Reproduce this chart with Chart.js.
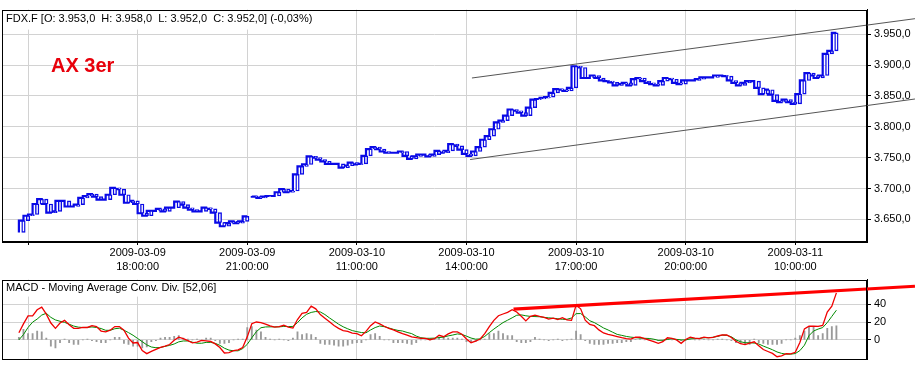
<!DOCTYPE html>
<html>
<head>
<meta charset="utf-8">
<script src="https://cdn.jsdelivr.net/npm/chart.js@4.4.1/dist/chart.umd.min.js"></script>
<style>
  html,body{margin:0;padding:0;background:#fff;}
  #wrap{position:relative;width:915px;height:369px;overflow:hidden;background:#fff;}
  canvas{position:absolute;left:0;}
  #priceCanvas{top:0;}
  #macdCanvas{top:270px;}
</style>
</head>
<body>
<div id="wrap">
  <canvas id="priceCanvas" width="915" height="276"></canvas>
  <canvas id="macdCanvas" width="915" height="99"></canvas>
</div>
<script>
/* ---- data (bar index, 0 = first grid line) ---- */
const firstBar = -2;
const priceClose = [
  3629,3648,3656,3658,3675,3683,3675,3661,3663,3680,
  3680,3671,3671,3674,3685,3688,3691,3687,3682,3682,
  3690,3701,3699,3690,3677,3680,3675,3660,3656,3664,
  3664,3667,3663,3669,3669,3679,3674,3669,3666,3663,
  3663,3669,3667,3661,3645,3639,3644,3647,3644,3647,
  3655,3688,3687,3685,3687,3688,3688,3694,3699,3694,
  3696,3723,3736,3739,3752,3750,3747,3744,3740,3740,
  3740,3734,3737,3742,3739,3740,3753,3764,3767,3764,
  3760,3758,3758,3758,3760,3753,3748,3752,3755,3755,
  3752,3755,3761,3758,3761,3772,3769,3763,3756,3753,
  3760,3767,3779,3785,3796,3807,3810,3818,3828,3826,
  3823,3818,3831,3844,3845,3847,3848,3855,3861,3860,
  3858,3863,3898,3896,3879,3879,3883,3879,3875,3874,
  3872,3867,3869,3871,3867,3877,3879,3874,3871,3869,
  3867,3874,3879,3877,3871,3869,3875,3875,3875,3877,
  3880,3880,3880,3883,3883,3882,3875,3871,3867,3871,
  3874,3874,3863,3853,3860,3852,3842,3840,3844,3840,
  3837,3853,3875,3887,3883,3879,3883,3918,3923,3952
];
const sessionStarts = [49];   // no link to the previous close here

const macdLine = [
  8,18,27,27,34,37,29,19,13,19,
  22,17,13,13,14,14,16,15,10,9,
  11,15,15,11,2,-3.5,-3,-12,-15.5,-13,
  -10.7,-8.4,-7,-5.2,-0.3,3,1.4,-0.9,-3.3,-2.6,
  -0.6,-1,-1.8,-4.5,-8.6,-14.8,-14.3,-12.2,-11.3,-8.7,
  3.4,18.2,20.2,19.6,17.8,15.7,14.4,15,16.5,14.5,
  13.4,23,30,31,38,35,28.5,24.5,20.4,16.3,
  13,10.4,9.6,7.7,7,4.6,9.6,16,20.2,18,
  15.4,13,11.2,9.1,7.1,5.4,3.3,2.6,1.8,1.8,
  0.2,1.4,5.2,3.6,6.8,9.1,9,6.4,1,-3.2,
  -1.3,1,7,15,22,27.3,29.2,31,34,31.5,
  26.6,21.4,26.5,28,26.5,25.5,23.4,24.5,23,25,
  22.5,22,39,35,22.3,17.5,16,11.3,7.8,6.1,
  5,3.7,2.5,1.5,0.8,3.1,3,1.3,-0.3,-2,
  -3.9,-2,2.4,1.6,0,-3.9,0.5,3,2,1.4,
  3.1,2.3,2.9,4.4,5.6,5.5,2.7,-1.6,-4.3,-5.3,
  -3.7,-2.1,-6.5,-10.9,-13.1,-15.2,-19,-18,-15.6,-15.8,
  -14,-3,12.4,15.4,15.4,15.2,16.4,31.4,38,53
];
const signalLine = [
  0,6,14,20,23.5,28,30,25.4,22.5,21,
  19.8,17.7,15.6,14.4,14,14.1,14.6,14,12.8,10.8,
  10.8,12.6,13.2,10.9,8.2,5.2,1.6,-2,-5.6,-8,
  -8.8,-8.6,-7.3,-6.2,-4.6,-2.2,-1.2,-1.2,-2.6,-3.7,
  -3.8,-2.8,-2.8,-3.9,-6.1,-9.4,-11.5,-12.3,-12.3,-9.8,
  -5,2.4,9.3,13.7,14.6,14.7,14.7,14.7,15.2,15,
  15.2,19.5,24.8,28.9,31,32,31.5,28.6,24.8,21.3,
  17.7,14.8,12.5,10.5,9.3,8.3,8,11.2,13.9,15.7,
  14.9,13.5,11.9,10.7,10,8.4,7.1,4.3,2.5,1.8,
  1.8,2,2.6,3.2,4.5,5.5,6.7,6.2,4.2,2.1,
  0.8,1.1,3.9,8.2,12.2,15.9,19.5,22.2,24.9,27.8,
  28.2,27.2,26.5,26.3,26.1,25.4,24.9,24.4,23.9,23.2,
  23.2,24.7,29.6,29.7,26,21.6,19.5,16.6,13.5,11.2,
  8.7,6.2,5.1,3.9,3.1,2.6,2,1.8,1.6,0.8,
  -0.5,-0.4,0.5,1.3,0.6,0,-0.1,1.2,1.4,1.7,
  2.5,2.5,3,3.9,5.4,5.1,3.5,0.1,-2.1,-3.2,
  -3.2,-3.6,-4.6,-7,-9,-11.1,-13.6,-15.2,-16.1,-16.1,
  -15.4,-12.1,-6,4.8,10,12.2,13.9,19.5,26.5,33.5
];
const macdHist = [
  3,12,7,7,10,9,2,-7,-9,-3,
  1,-3,-5,-5,0,1,-1,-2,-3,-3,
  0,3,3,-4,-5,-7,-7,-9,-8,-2,
  -1,2,3,3,4,5,2,1,0,1,
  -1,2,2,-1,-4,-4,-3,0,1,1,
  14,15,11,9,3,1,0,1,0,-1,
  2,9,6,7,6,3,-4,-5,-5,-6,
  -7,-7,-6,-4,-3,-3,0,6,7,4,
  0,0,-3,-3,-3,-4,-5,-3,0,0,
  0,1,3,3,2,2,2,1,-2,-2,
  -2,0,1,7,7,10,7,5,5,-2,
  -3,-3,-2,3,1,0,-1,0,1,-1,
  0,1,10,6,-1,-4,-5,-5,-5,-4,
  -4,-3,-3,-2,-2,1,1,0,0,0,
  -1,-1,1,0,0,-1,0,1,0,0,
  1,0,0,1,1,0,-1,-3,-4,-5,
  -5,1,-3,-4,-5,-5,-5,-4,0,0,
  2,5,10,15,15,5,7,13,15,16
];

// drawn trend lines [barIndex, value]
const upperChannel = [[97.2, 3879], [194.2, 3975]];
const lowerChannel = [[96.8, 3747], [194.2, 3845]];
const macdTrend    = [[106.3, 34.7], [194.2, 60.5]];

const gridBars   = [0, 24, 48, 72, 96, 120, 144, 168];
const dateLabels = ['', '2009-03-09', '2009-03-09', '2009-03-10', '2009-03-10', '2009-03-10', '2009-03-10', '2009-03-11'];
const timeLabels = ['', '18:00:00', '21:00:00', '11:00:00', '14:00:00', '17:00:00', '20:00:00', '10:00:00'];
const priceTicks = [3650, 3700, 3750, 3800, 3850, 3900, 3950];
const macdTicks  = [0, 20, 40];

const priceTitle = 'FDX.F [O: 3.953,0  H: 3.958,0  L: 3.952,0  C: 3.952,0] (-0,03%)';
const macdTitle  = 'MACD - Moving Average Conv. Div. [52,06]';
const noteText   = 'AX 3er';

/* ---- helpers ---- */
const FAMILY = "'Liberation Sans', Arial, sans-serif";
Chart.defaults.font.family = FAMILY;
Chart.defaults.font.size = 11;
Chart.defaults.color = '#000';

const X_MIN = -5.7, X_MAX = 183.7;
const GRID = '#d2d2d2';
const BLUE = '#0a0ae6';

function fmtPrice(v){
  const s = String(Math.round(v));
  return s.slice(0, -3) + '.' + s.slice(-3) + ',0';
}
const toXY = arr => arr.map(p => ({x: p[0], y: p[1]}));

// candle bodies: previous close -> close
const bodies = priceClose.map((c, k) => {
  const i = firstBar + k;
  const open = (k === 0 || sessionStarts.includes(i)) ? c : priceClose[k - 1];
  return {x: i, y: [open, c]};
});
const stepLine = [];
priceClose.forEach((c, k) => {
  const i = firstBar + k;
  if (sessionStarts.includes(i)) stepLine.push({x: i - 0.5, y: null});
  stepLine.push({x: i, y: c});
});
const series = arr => arr.map((v, k) => ({x: firstBar + k, y: v}));

/* panel frame + text overlay */
const panelDeco = {
  id: 'panelDeco',
  afterDraw(chart, args, o){
    const {ctx, chartArea: a} = chart;
    ctx.save();
    ctx.font = '11px ' + FAMILY;
    const w = ctx.measureText(o.title).width;
    ctx.fillStyle = '#fff';
    ctx.fillRect(a.left + 1, a.top + 1, w + 6, o.titleBox);
    ctx.fillStyle = '#000';
    ctx.textBaseline = 'middle';
    ctx.fillText(o.title, a.left + 4, a.top + o.titleY);
    if (o.note){
      ctx.font = 'bold 20px ' + FAMILY;
      ctx.fillStyle = '#e8000b';
      ctx.fillText(o.note, a.left + 49, a.top + 57);
    }
    ctx.strokeStyle = '#000';
    ctx.lineWidth = 1;
    ctx.strokeRect(Math.round(a.left) + 0.5, Math.round(a.top) + 0.5,
                   Math.round(a.right - a.left) - 1, Math.round(a.bottom - a.top) - 1);
    ctx.restore();
  }
};

function xScale(showLabels, height){
  return {
    type: 'linear', min: X_MIN, max: X_MAX, offset: false,
    afterBuildTicks: s => { s.ticks = gridBars.map(v => ({value: v})); },
    afterFit: s => { s.height = height; },
    grid: {color: GRID, offset: false, drawTicks: showLabels, tickLength: 3, tickColor: '#000'},
    border: {color: '#000'},
    ticks: {
      display: showLabels, autoSkip: false, maxRotation: 0, padding: 1,
      font: {size: 11, lineHeight: 1.25},
      callback: v => { const k = gridBars.indexOf(v); return k < 0 ? '' : [dateLabels[k], timeLabels[k]]; }
    }
  };
}
function yScale(min, max, ticks, fmt){
  return {
    position: 'right', min, max,
    afterBuildTicks: s => { s.ticks = ticks.map(v => ({value: v})); },
    afterFit: s => { s.width = 48; },
    grid: {color: GRID, tickLength: 4, tickColor: '#000'},
    border: {color: '#000'},
    ticks: {padding: 3, callback: fmt}
  };
}

/* ---- price panel ---- */
new Chart(document.getElementById('priceCanvas'), {
  type: 'bar',
  data: {
    datasets: [
      {type: 'line', data: toXY(upperChannel), borderColor: '#555', borderWidth: 1, pointRadius: 0, clip: false, order: 0},
      {type: 'line', data: toXY(lowerChannel), borderColor: '#555', borderWidth: 1, pointRadius: 0, clip: false, order: 0},
      {type: 'bar', data: bodies, backgroundColor: '#fff', borderColor: BLUE, borderWidth: 1.4,
       borderSkipped: false, barThickness: 3.5, order: 1},
      {type: 'line', data: stepLine, stepped: 'after', borderColor: BLUE, borderWidth: 2.2,
       pointRadius: 0, spanGaps: false, order: 2}
    ]
  },
  options: {
    responsive: false, animation: false, devicePixelRatio: 1,
    layout: {padding: {left: 2, top: 5, right: 0, bottom: 0}},
    plugins: {legend: {display: false}, tooltip: {enabled: false},
      panelDeco: {title: priceTitle, titleBox: 19, titleY: 9, note: noteText}},
    scales: {
      x: xScale(true, 34),
      y: yScale(3613.5, 3989.7, priceTicks, fmtPrice)
    }
  },
  plugins: [panelDeco]
});

/* ---- MACD panel ---- */
new Chart(document.getElementById('macdCanvas'), {
  type: 'bar',
  data: {
    datasets: [
      {type: 'line', data: toXY(macdTrend), borderColor: '#ff0000', borderWidth: 3.2, pointRadius: 0, clip: false, order: 0},
      {type: 'line', data: series(macdLine), borderColor: '#f00000', borderWidth: 1.3, pointRadius: 0, order: 1},
      {type: 'line', data: series(signalLine), borderColor: '#008a00', borderWidth: 1, pointRadius: 0, order: 2},
      {type: 'bar', data: series(macdHist), backgroundColor: '#9a9a9a', barThickness: 1.2, order: 3}
    ]
  },
  options: {
    responsive: false, animation: false, devicePixelRatio: 1,
    layout: {padding: {left: 2, top: 8, right: 0, bottom: 0}},
    plugins: {legend: {display: false}, tooltip: {enabled: false},
      panelDeco: {title: macdTitle, titleBox: 16, titleY: 8}},
    scales: {
      x: xScale(false, 5),
      y: yScale(-22, 68, macdTicks, v => String(v))
    }
  },
  plugins: [panelDeco]
});
</script>
</body>
</html>
